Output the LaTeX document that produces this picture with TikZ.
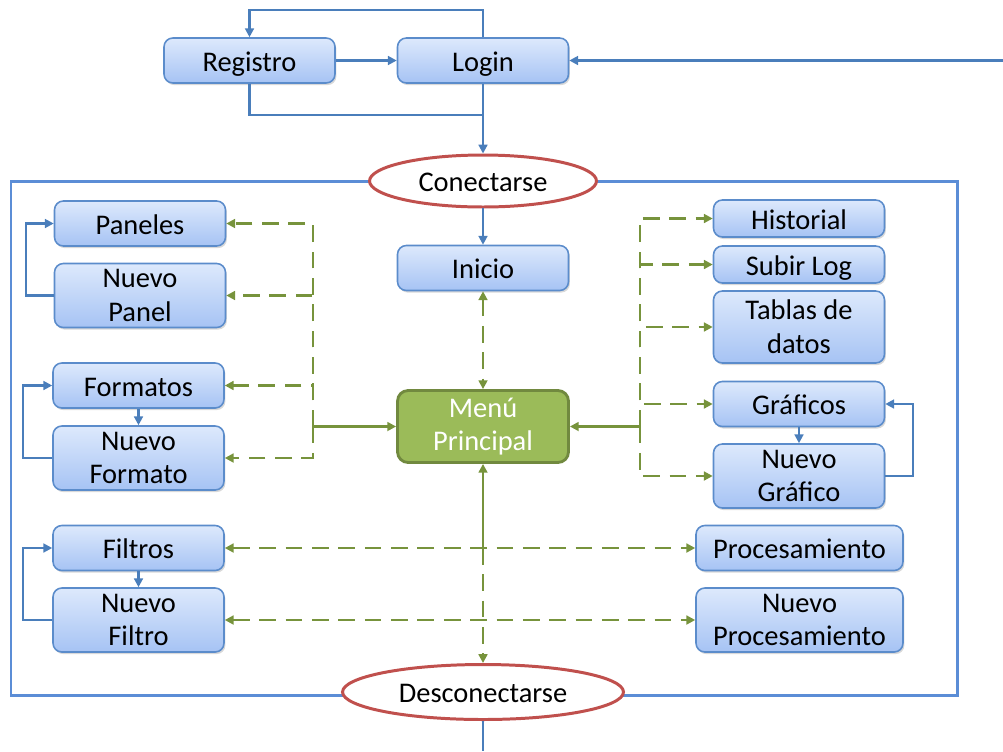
\documentclass[tikz,border=0pt]{standalone}
\usepackage{fontspec}
\setmainfont{Carlito}
\usetikzlibrary{arrows.meta,shadows,shapes.geometric}

\definecolor{boxtop}{HTML}{DDE9FC}
\definecolor{boxbot}{HTML}{A6C3F4}
\definecolor{boxline}{HTML}{5B8CCB}
\definecolor{flow}{HTML}{4A7EBB}
\definecolor{framecol}{HTML}{5B8DD6}
\definecolor{menufill}{HTML}{9BBB59}
\definecolor{menuline}{HTML}{71893F}
\definecolor{linkcol}{HTML}{77933C}
\definecolor{ovalcol}{HTML}{C0504D}

\tikzset{
  txt/.style={font=\fontsize{16.2}{19.2}\selectfont, align=center, inner sep=0pt},
  screen/.style={txt, draw=boxline, line width=0.9pt, rounded corners=5pt,
    top color=boxtop, bottom color=boxbot, minimum width=3.42cm, minimum height=0.9cm,
    text height=12.6pt, text depth=0.5pt,
    drop shadow={opacity=0.3, shadow xshift=0.8pt, shadow yshift=-1.2pt}},
  tall/.style={screen, minimum height=1.28cm, text height=, text depth=},
  slim/.style={screen, minimum height=0.74cm},
  wide/.style={screen, minimum width=4.14cm},
  mainmenu/.style={txt, text=white, draw=menuline, line width=1.6pt, rounded corners=6pt,
    fill=menufill, minimum width=3.42cm, minimum height=1.44cm},
  oval/.style={txt, ellipse, draw=ovalcol, line width=1.7pt, fill=white,
    text height=12.6pt, text depth=0.5pt},
  flowline/.style={draw=flow, line width=1.2pt, arrows={-Triangle[length=5pt,width=5pt]}},
  plain/.style={draw=flow, line width=1.2pt},
  linksolid/.style={draw=linkcol, line width=1.5pt},
  linkdash/.style={draw=linkcol, line width=1.5pt, dash pattern=on 9.5pt off 5.5pt},
  ahead/.style={arrows={-Triangle[length=5pt,width=5pt]}},
  bothheads/.style={arrows={Triangle[length=5pt,width=5pt]-Triangle[length=5pt,width=5pt]}},
}

\begin{document}
\begin{tikzpicture}[x=0.02cm, y=-0.02cm]
\useasboundingbox (0,0) rectangle (1003,751);

% session frame
\draw[framecol, line width=1.7pt] (11,181) rectangle (957,695);

% access screens
\node[screen] (registro) at (249.5,60.5) {Registro};
\node[screen] (login) at (483,60.5) {Login};
\node[oval, minimum width=4.54cm, minimum height=1.04cm] (conectar) at (483,181) {Conectarse};
\node[oval, minimum width=5.62cm, minimum height=1.1cm] (desconectar) at (483,692) {Desconectarse};

% centre column
\node[screen] (inicio) at (483,268) {Inicio};
\node[mainmenu] (menu) at (483,426.5) {Menú\\Principal};

% left column
\node[screen] (paneles) at (140,223.5) {Paneles};
\node[tall] (npanel) at (140,295.5) {Nuevo\\Panel};
\node[screen] (formatos) at (138.5,385.5) {Formatos};
\node[tall] (nformato) at (138.5,458) {Nuevo\\Formato};
\node[screen] (filtros) at (138.5,548) {Filtros};
\node[tall] (nfiltro) at (138.5,620) {Nuevo\\Filtro};

% right column
\node[slim] (historial) at (799,218.5) {Historial};
\node[slim] (subirlog) at (799,264.5) {Subir Log};
\node[tall, minimum height=1.44cm] (tablas) at (799,327) {Tablas de\\datos};
\node[screen] (graficos) at (799,404) {Gráficos};
\node[tall] (ngrafico) at (799,476) {Nuevo\\Gráfico};
\node[wide] (proc) at (799.5,548) {Procesamiento};
\node[tall, minimum width=4.14cm] (nproc) at (799.5,620) {Nuevo\\Procesamiento};

% login flow
\coordinate (entry) at (1003,60.5);
\coordinate (exit) at (483,751);
\draw[flowline] (login.north) -- (483,10) -| (registro.north);
\draw[flowline] (registro) -- (login);
\draw[flowline] (entry) -- (login.east);
\draw[plain] (registro.south) |- (483,115);
\draw[flowline] (login.south) -- (conectar.north);
\draw[flowline] (conectar.south) -- (inicio.north);
\draw[plain] (desconectar.south) -- (exit);

% creation loops
\draw[flowline] (npanel.west) -- ++(-28,0) |- (paneles.west);
\draw[flowline] (formatos.south) -- (nformato.north);
\draw[flowline] (nformato.west) -- ++(-29,0) |- (formatos.west);
\draw[flowline] (filtros.south) -- (nfiltro.north);
\draw[flowline] (nfiltro.west) -- ++(-29,0) |- (filtros.west);
\draw[flowline] (graficos.south) -- (ngrafico.north);
\draw[flowline] (ngrafico.east) -- ++(28,0) |- (graficos.east);

% main menu links
\draw[linkdash, bothheads] (inicio.south) -- (menu.north);
\coordinate (down) at (483,548);
\draw[linksolid, arrows={Triangle[length=5pt,width=5pt]-}] (menu.south) -- (down);
\draw[linkdash, ahead] (down) -- (desconectar.north);

\coordinate (lbus) at (313,426.5);
\draw[linksolid, ahead] (lbus) -- (menu.west);
\foreach \t in {paneles, npanel, formatos, nformato}
  \draw[linkdash, ahead] (lbus) |- (\t.east);

\coordinate (rbus) at (640,426.5);
\draw[linksolid, ahead] (rbus) -- (menu.east);
\foreach \t in {historial, subirlog, tablas, graficos, ngrafico}
  \draw[linkdash, ahead] (rbus) |- (\t.west);

\draw[linkdash, bothheads] (filtros.east) -- (proc.west);
\draw[linkdash, bothheads] (nfiltro.east) -- (nproc.west);
\end{tikzpicture}
\end{document}
